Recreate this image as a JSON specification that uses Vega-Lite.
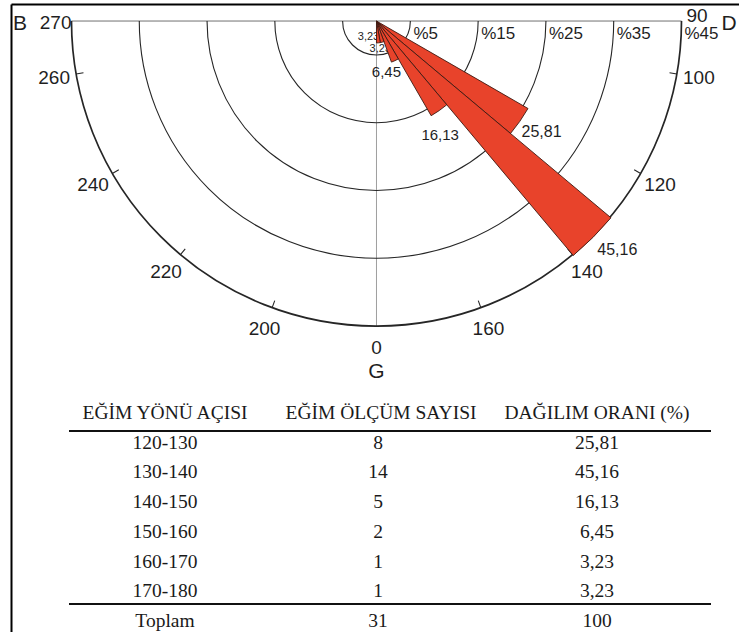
{
  "$schema": "https://vega.github.io/schema/vega-lite/v6.json",
  "width": 739,
  "height": 632,
  "autosize": {"type": "fit", "contains": "padding"},
  "padding": {"left": 11, "top": 4, "right": 0, "bottom": 0},
  "background": "white",
  "config": {
    "view": {"stroke": null},
    "locale": {"number": {"decimal": ",", "thousands": ".", "grouping": [3], "currency": ["", ""]}},
    "text": {"font": "Liberation Sans", "color": "#1f1f1f"}
  },
  "datasets": {
    "dagilim": [
      {"aci": "120-130", "baslangic": 120, "bitis": 130, "sayi": 8, "oran": 25.81},
      {"aci": "130-140", "baslangic": 130, "bitis": 140, "sayi": 14, "oran": 45.16},
      {"aci": "140-150", "baslangic": 140, "bitis": 150, "sayi": 5, "oran": 16.13},
      {"aci": "150-160", "baslangic": 150, "bitis": 160, "sayi": 2, "oran": 6.45},
      {"aci": "160-170", "baslangic": 160, "bitis": 170, "sayi": 1, "oran": 3.23},
      {"aci": "170-180", "baslangic": 170, "bitis": 180, "sayi": 1, "oran": 3.23},
      {"aci": "Toplam", "sayi": 31, "oran": 100}
    ],
    "halkalar": [
      {"oran": 5, "etiket": "%5"},
      {"oran": 15, "etiket": "%15"},
      {"oran": 25, "etiket": "%25"},
      {"oran": 35, "etiket": "%35"},
      {"oran": 45, "etiket": "%45"}
    ],
    "acilar": [
      {"aci": 90, "etiket": "90"},
      {"aci": 100, "etiket": "100"},
      {"aci": 120, "etiket": "120"},
      {"aci": 140, "etiket": "140"},
      {"aci": 160, "etiket": "160"},
      {"aci": 180, "etiket": "0"},
      {"aci": 200, "etiket": "200"},
      {"aci": 220, "etiket": "220"},
      {"aci": 240, "etiket": "240"},
      {"aci": 260, "etiket": "260"},
      {"aci": 270, "etiket": "270"}
    ],
    "yonler": [
      {"yon": "D", "aci": 90},
      {"yon": "G", "aci": 180},
      {"yon": "B", "aci": 270}
    ],
    "sutunlar": [
      {"sutun": "EĞİM YÖNÜ AÇISI"},
      {"sutun": "EĞİM ÖLÇÜM SAYISI"},
      {"sutun": "DAĞILIM ORANI (%)"}
    ]
  },
  "resolve": {"scale": {"x": "independent", "y": "independent"}, "axis": {"x": "independent", "y": "independent"}},
  "layer": [
    {
      "encoding": {
        "x": {"datum": 0, "type": "quantitative", "scale": {"domain": [-53.85, 53.41], "nice": false, "zero": false},
          "axis": {"orient": "top", "labels": false, "ticks": false, "grid": false, "title": null, "domain": true, "domainColor": "#000000", "domainWidth": 2, "minExtent": 0, "maxExtent": 0}},
        "y": {"datum": 0, "type": "quantitative", "scale": {"domain": [-2.51, 90.0], "reverse": true, "nice": false, "zero": false},
          "axis": {"orient": "left", "labels": false, "ticks": false, "grid": false, "title": null, "domain": true, "domainColor": "#000000", "domainWidth": 2, "minExtent": 0, "maxExtent": 0}}
      },
      "layer": [
        {
          "data": {"name": "yonler"},
          "mark": {"type": "arc", "filled": false, "stroke": "#a0a0a0", "strokeWidth": 1},
          "encoding": {
            "theta": {"field": "aci", "type": "quantitative", "stack": null, "scale": {"domain": [0, 360], "range": [0, 6.283185307179586]}},
            "theta2": {"field": "aci"},
            "radius": {"datum": 45, "type": "quantitative", "scale": {"type": "linear", "domain": [0, 45], "range": [0, 305], "zero": true}},
            "radius2": {"datum": 0}
          }
        },
        {
          "data": {"name": "halkalar"},
          "mark": {"type": "arc", "filled": false, "stroke": "#262626"},
          "encoding": {
            "theta": {"datum": 90, "type": "quantitative", "stack": null, "scale": {"domain": [0, 360], "range": [0, 6.283185307179586]}},
            "theta2": {"datum": 270},
            "radius": {"field": "oran", "type": "quantitative", "scale": {"type": "linear", "domain": [0, 45], "range": [0, 305], "zero": true}},
            "radius2": {"field": "oran"},
            "strokeWidth": {"condition": {"test": "datum.oran == 45", "value": 1.7}, "value": 1.1}
          }
        },
        {
          "data": {"name": "acilar"},
          "transform": [{"filter": "datum.aci != 90 && datum.aci != 180 && datum.aci != 270"}],
          "mark": {"type": "arc", "filled": false, "stroke": "#262626", "strokeWidth": 1.1},
          "encoding": {
            "theta": {"field": "aci", "type": "quantitative", "stack": null, "scale": {"domain": [0, 360], "range": [0, 6.283185307179586]}},
            "theta2": {"field": "aci"},
            "radius": {"datum": 45, "type": "quantitative", "scale": {"type": "linear", "domain": [0, 45], "range": [0, 305], "zero": true}},
            "radius2": {"datum": 43.9}
          }
        },
        {
          "data": {"name": "halkalar"},
          "mark": {"type": "text", "align": "left", "baseline": "middle", "dx": 3, "dy": 13, "fontSize": 17},
          "encoding": {
            "theta": {"datum": 90, "type": "quantitative", "stack": null, "scale": {"domain": [0, 360], "range": [0, 6.283185307179586]}},
            "radius": {"field": "oran", "type": "quantitative", "scale": {"type": "linear", "domain": [0, 45], "range": [0, 305], "zero": true}},
            "text": {"field": "etiket"}
          }
        },
        {
          "data": {"name": "acilar"},
          "transform": [{"filter": "datum.aci != 90 && datum.aci != 270"}],
          "mark": {"type": "text", "align": "center", "baseline": "middle", "fontSize": 19},
          "encoding": {
            "theta": {"field": "aci", "type": "quantitative", "stack": null, "scale": {"domain": [0, 360], "range": [0, 6.283185307179586]}},
            "radius": {"datum": 48.3, "type": "quantitative", "scale": {"type": "linear", "domain": [0, 45], "range": [0, 305], "zero": true}},
            "text": {"field": "etiket"}
          }
        },
        {
          "data": {"name": "acilar"},
          "transform": [{"filter": "datum.aci == 270"}],
          "mark": {"type": "text", "align": "right", "baseline": "middle", "dy": 2, "fontSize": 19},
          "encoding": {
            "theta": {"field": "aci", "type": "quantitative", "stack": null, "scale": {"domain": [0, 360], "range": [0, 6.283185307179586]}},
            "radius": {"datum": 45, "type": "quantitative", "scale": {"type": "linear", "domain": [0, 45], "range": [0, 305], "zero": true}},
            "text": {"field": "etiket"}
          }
        },
        {
          "data": {"name": "acilar"},
          "transform": [{"filter": "datum.aci == 90"}],
          "mark": {"type": "text", "align": "left", "baseline": "alphabetic", "dx": 5, "dy": 1, "fontSize": 19},
          "encoding": {
            "theta": {"field": "aci", "type": "quantitative", "stack": null, "scale": {"domain": [0, 360], "range": [0, 6.283185307179586]}},
            "radius": {"datum": 45, "type": "quantitative", "scale": {"type": "linear", "domain": [0, 45], "range": [0, 305], "zero": true}},
            "text": {"field": "etiket"}
          }
        },
        {
          "data": {"name": "yonler"},
          "transform": [{"filter": "datum.yon != 'G'"}],
          "mark": {"type": "text", "align": "center", "baseline": "middle", "dx": -2, "dy": 3, "fontSize": 21, "clip": true},
          "encoding": {
            "theta": {"field": "aci", "type": "quantitative", "stack": null, "scale": {"domain": [0, 360], "range": [0, 6.283185307179586]}},
            "radius": {"datum": 52.3, "type": "quantitative", "scale": {"type": "linear", "domain": [0, 45], "range": [0, 305], "zero": true}},
            "text": {"field": "yon"}
          }
        },
        {
          "data": {"name": "yonler"},
          "transform": [{"filter": "datum.yon == 'G'"}],
          "mark": {"type": "text", "align": "center", "baseline": "middle", "fontSize": 21},
          "encoding": {
            "theta": {"field": "aci", "type": "quantitative", "stack": null, "scale": {"domain": [0, 360], "range": [0, 6.283185307179586]}},
            "radius": {"datum": 51.8, "type": "quantitative", "scale": {"type": "linear", "domain": [0, 45], "range": [0, 305], "zero": true}},
            "text": {"field": "yon"}
          }
        },
        {
          "data": {"name": "dagilim"},
          "transform": [{"filter": "datum.aci == '120-130'"}],
          "mark": {"type": "text", "align": "left", "baseline": "middle", "dx": 11, "dy": -1, "fontSize": 16},
          "encoding": {
            "theta": {"field": "bitis", "type": "quantitative", "stack": null, "scale": {"domain": [0, 360], "range": [0, 6.283185307179586]}},
            "radius": {"field": "oran", "type": "quantitative", "scale": {"type": "linear", "domain": [0, 45], "range": [0, 305], "zero": true}},
            "text": {"field": "oran", "type": "quantitative", "format": ".2~f"}
          }
        },
        {
          "data": {"name": "dagilim"},
          "transform": [{"filter": "datum.aci == '130-140'"}],
          "mark": {"type": "text", "align": "left", "baseline": "middle", "dx": 24, "dy": -6, "fontSize": 16},
          "encoding": {
            "theta": {"field": "bitis", "type": "quantitative", "stack": null, "scale": {"domain": [0, 360], "range": [0, 6.283185307179586]}},
            "radius": {"field": "oran", "type": "quantitative", "scale": {"type": "linear", "domain": [0, 45], "range": [0, 305], "zero": true}},
            "text": {"field": "oran", "type": "quantitative", "format": ".2~f"}
          }
        },
        {
          "data": {"name": "dagilim"},
          "transform": [{"filter": "datum.aci == '140-150'"}],
          "mark": {"type": "text", "align": "center", "baseline": "middle", "dx": 9, "dy": 19, "fontSize": 15},
          "encoding": {
            "theta": {"field": "bitis", "type": "quantitative", "stack": null, "scale": {"domain": [0, 360], "range": [0, 6.283185307179586]}},
            "radius": {"field": "oran", "type": "quantitative", "scale": {"type": "linear", "domain": [0, 45], "range": [0, 305], "zero": true}},
            "text": {"field": "oran", "type": "quantitative", "format": ".2~f"}
          }
        },
        {
          "data": {"name": "dagilim"},
          "transform": [{"filter": "datum.aci == '150-160'"}],
          "mark": {"type": "text", "align": "center", "baseline": "middle", "dx": -5, "dy": 10, "fontSize": 15},
          "encoding": {
            "theta": {"field": "bitis", "type": "quantitative", "stack": null, "scale": {"domain": [0, 360], "range": [0, 6.283185307179586]}},
            "radius": {"field": "oran", "type": "quantitative", "scale": {"type": "linear", "domain": [0, 45], "range": [0, 305], "zero": true}},
            "text": {"field": "oran", "type": "quantitative", "format": ".2~f"}
          }
        },
        {
          "data": {"name": "dagilim"},
          "transform": [{"filter": "datum.aci == '160-170'"}],
          "mark": {"type": "text", "align": "center", "baseline": "middle", "dx": 0, "dy": 6, "fontSize": 11},
          "encoding": {
            "theta": {"field": "bitis", "type": "quantitative", "stack": null, "scale": {"domain": [0, 360], "range": [0, 6.283185307179586]}},
            "radius": {"field": "oran", "type": "quantitative", "scale": {"type": "linear", "domain": [0, 45], "range": [0, 305], "zero": true}},
            "text": {"field": "oran", "type": "quantitative", "format": ".2~f"}
          }
        },
        {
          "data": {"name": "dagilim"},
          "transform": [{"filter": "datum.aci == '170-180'"}],
          "mark": {"type": "text", "align": "center", "baseline": "middle", "dx": -8, "dy": -6, "fontSize": 11},
          "encoding": {
            "theta": {"field": "bitis", "type": "quantitative", "stack": null, "scale": {"domain": [0, 360], "range": [0, 6.283185307179586]}},
            "radius": {"field": "oran", "type": "quantitative", "scale": {"type": "linear", "domain": [0, 45], "range": [0, 305], "zero": true}},
            "text": {"field": "oran", "type": "quantitative", "format": ".2~f"}
          }
        },
        {
          "data": {"name": "dagilim"},
          "transform": [{"filter": "isValid(datum.baslangic)"}],
          "mark": {"type": "arc", "fill": "#E8432B", "stroke": "#3d1a12", "strokeWidth": 0.9},
          "encoding": {
            "theta": {"field": "baslangic", "type": "quantitative", "stack": null, "scale": {"domain": [0, 360], "range": [0, 6.283185307179586]}},
            "theta2": {"field": "bitis"},
            "radius": {"field": "oran", "type": "quantitative", "scale": {"type": "linear", "domain": [0, 45], "range": [0, 305], "zero": true}}
          }
        }
      ]
    },
    {
      "layer": [
        {
          "data": {"name": "sutunlar"},
          "mark": {"type": "text", "font": "Liberation Serif", "fontSize": 19.5, "align": "center", "baseline": "middle", "color": "#1a1a1a"},
          "encoding": {
            "x": {"field": "sutun", "type": "nominal", "axis": null, "scale": {"type": "point", "domain": ["EĞİM YÖNÜ AÇISI", "EĞİM ÖLÇÜM SAYISI", "DAĞILIM ORANI (%)"], "range": [154, 586], "padding": 0}},
            "y": {"datum": "başlık", "type": "nominal", "axis": null, "scale": {"type": "point", "domain": ["başlık", "120-130", "130-140", "140-150", "150-160", "160-170", "170-180", "Toplam"], "range": [409, 617], "padding": 0}},
            "text": {"field": "sutun"}
          }
        },
        {
          "data": {"name": "sutunlar"},
          "transform": [{"filter": "datum.sutun == 'EĞİM YÖNÜ AÇISI'"}],
          "mark": {"type": "rule", "color": "#111111", "strokeWidth": 2, "xOffset": -96, "x2Offset": 114, "yOffset": 18},
          "encoding": {
            "x": {"datum": "EĞİM YÖNÜ AÇISI", "type": "nominal", "axis": null, "scale": {"type": "point", "domain": ["EĞİM YÖNÜ AÇISI", "EĞİM ÖLÇÜM SAYISI", "DAĞILIM ORANI (%)"], "range": [154, 586], "padding": 0}},
            "x2": {"datum": "DAĞILIM ORANI (%)"},
            "y": {"datum": "başlık", "type": "nominal", "axis": null, "scale": {"type": "point", "domain": ["başlık", "120-130", "130-140", "140-150", "150-160", "160-170", "170-180", "Toplam"], "range": [409, 617], "padding": 0}}
          }
        },
        {
          "data": {"name": "sutunlar"},
          "transform": [{"filter": "datum.sutun == 'EĞİM YÖNÜ AÇISI'"}],
          "mark": {"type": "rule", "color": "#111111", "strokeWidth": 2, "xOffset": -96, "x2Offset": 114, "yOffset": -17},
          "encoding": {
            "x": {"datum": "EĞİM YÖNÜ AÇISI", "type": "nominal", "axis": null, "scale": {"type": "point", "domain": ["EĞİM YÖNÜ AÇISI", "EĞİM ÖLÇÜM SAYISI", "DAĞILIM ORANI (%)"], "range": [154, 586], "padding": 0}},
            "x2": {"datum": "DAĞILIM ORANI (%)"},
            "y": {"datum": "Toplam", "type": "nominal", "axis": null, "scale": {"type": "point", "domain": ["başlık", "120-130", "130-140", "140-150", "150-160", "160-170", "170-180", "Toplam"], "range": [409, 617], "padding": 0}}
          }
        },
        {
          "data": {"name": "dagilim"},
          "mark": {"type": "text", "font": "Liberation Serif", "fontSize": 19.5, "align": "center", "baseline": "middle", "color": "#1a1a1a"},
          "encoding": {
            "x": {"datum": "EĞİM YÖNÜ AÇISI", "type": "nominal", "axis": null, "scale": {"type": "point", "domain": ["EĞİM YÖNÜ AÇISI", "EĞİM ÖLÇÜM SAYISI", "DAĞILIM ORANI (%)"], "range": [154, 586], "padding": 0}},
            "y": {"field": "aci", "type": "nominal", "axis": null, "scale": {"type": "point", "domain": ["başlık", "120-130", "130-140", "140-150", "150-160", "160-170", "170-180", "Toplam"], "range": [409, 617], "padding": 0}},
            "text": {"field": "aci"}
          }
        },
        {
          "data": {"name": "dagilim"},
          "mark": {"type": "text", "font": "Liberation Serif", "fontSize": 19.5, "align": "center", "baseline": "middle", "color": "#1a1a1a", "dx": -3},
          "encoding": {
            "x": {"datum": "EĞİM ÖLÇÜM SAYISI", "type": "nominal", "axis": null, "scale": {"type": "point", "domain": ["EĞİM YÖNÜ AÇISI", "EĞİM ÖLÇÜM SAYISI", "DAĞILIM ORANI (%)"], "range": [154, 586], "padding": 0}},
            "y": {"field": "aci", "type": "nominal", "axis": null, "scale": {"type": "point", "domain": ["başlık", "120-130", "130-140", "140-150", "150-160", "160-170", "170-180", "Toplam"], "range": [409, 617], "padding": 0}},
            "text": {"field": "sayi", "type": "quantitative", "format": "d"}
          }
        },
        {
          "data": {"name": "dagilim"},
          "mark": {"type": "text", "font": "Liberation Serif", "fontSize": 19.5, "align": "center", "baseline": "middle", "color": "#1a1a1a"},
          "encoding": {
            "x": {"datum": "DAĞILIM ORANI (%)", "type": "nominal", "axis": null, "scale": {"type": "point", "domain": ["EĞİM YÖNÜ AÇISI", "EĞİM ÖLÇÜM SAYISI", "DAĞILIM ORANI (%)"], "range": [154, 586], "padding": 0}},
            "y": {"field": "aci", "type": "nominal", "axis": null, "scale": {"type": "point", "domain": ["başlık", "120-130", "130-140", "140-150", "150-160", "160-170", "170-180", "Toplam"], "range": [409, 617], "padding": 0}},
            "text": {"field": "oran", "type": "quantitative", "format": ".2~f"}
          }
        }
      ]
    }
  ]
}
